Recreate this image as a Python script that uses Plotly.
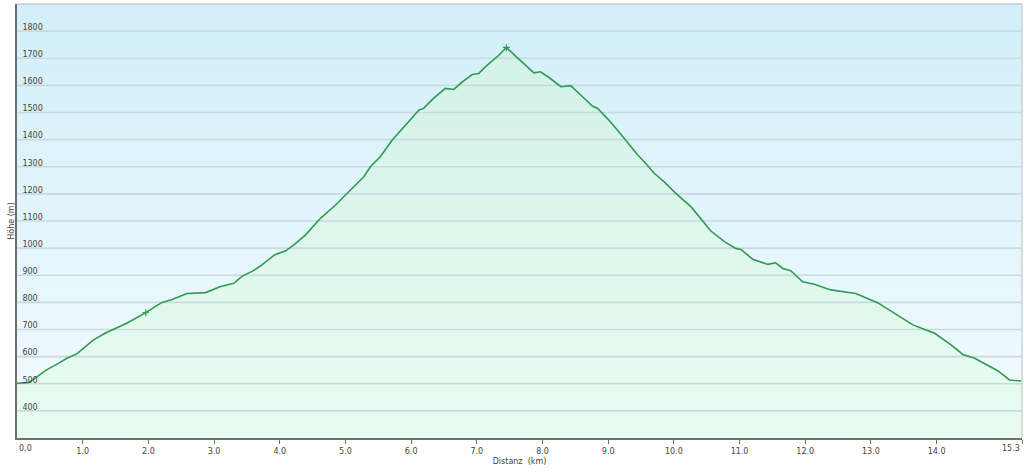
import plotly.graph_objects as go

dist_km = [0.00, 0.17, 0.27, 0.45, 0.63, 0.76, 0.91, 1.01, 1.16, 1.34, 1.49, 1.67, 1.96,
           2.20, 2.36, 2.59, 2.87, 3.09, 3.30, 3.43, 3.60, 3.73, 3.92, 4.09, 4.21, 4.39,
           4.62, 4.85, 5.05, 5.28, 5.38, 5.53, 5.71, 5.89, 6.12, 6.19, 6.34, 6.52, 6.65,
           6.78, 6.93, 7.03, 7.16, 7.34, 7.45, 7.59, 7.74, 7.87, 7.97, 8.10, 8.28, 8.43,
           8.61, 8.76, 8.84, 9.01, 9.19, 9.29, 9.45, 9.57, 9.70, 9.85, 10.03, 10.26, 10.41,
           10.56, 10.77, 10.94, 11.02, 11.20, 11.43, 11.55, 11.66, 11.78, 11.96, 12.14,
           12.39, 12.67, 12.77, 13.10, 13.41, 13.64, 13.81, 13.97, 14.22, 14.40, 14.58,
           14.73, 14.93, 15.11, 15.29]
elev_m = [502, 504, 520, 551, 575, 594, 610, 631, 661, 686, 704, 723, 762,
          799, 811, 833, 836, 858, 870, 897, 917, 938, 975, 990, 1011, 1048,
          1110, 1159, 1208, 1263, 1300, 1337, 1398, 1447, 1509, 1515, 1552, 1589, 1585,
          1613, 1640, 1644, 1675, 1712, 1740, 1708, 1675, 1646, 1650, 1629, 1595, 1599,
          1558, 1524, 1515, 1472, 1421, 1392, 1343, 1313, 1276, 1245, 1202, 1153, 1110,
          1064, 1024, 999, 995, 959, 940, 946, 925, 917, 876, 867,
          846, 837, 833, 799, 753, 717, 701, 686, 643, 608, 594,
          573, 548, 514, 510]

# waypoint markers
wp_km = [1.96, 7.45]
wp_m = [762, 1740]

x_tickvals = [0, 1, 2, 3, 4, 5, 6, 7, 8, 9, 10, 11, 12, 13, 14, 15.3]
x_ticktext = ["0.0", "1.0", "2.0", "3.0", "4.0", "5.0", "6.0", "7.0", "8.0", "9.0",
              "10.0", "11.0", "12.0", "13.0", "14.0", "15.3"]
y_tickvals = [400, 500, 600, 700, 800, 900, 1000, 1100, 1200, 1300, 1400, 1500, 1600, 1700, 1800]

X_MIN, X_MAX = 0, 15.3
Y_MIN, Y_MAX = 300, 1900

# the first and last labels sit inside the frame: they are drawn as
# edge-anchored texts, the middle ones as regular tick labels
x_labels = [""] + x_ticktext[1:-1] + [""]

LINE_COLOR = "#2f9a52"
GRID_COLOR = "#c9dadf"

fig = go.Figure()

# background gradient (light blue at top to near-white at bottom)
fig.add_trace(go.Scatter(
    x=[X_MIN, X_MAX, X_MAX, X_MIN, X_MIN], y=[Y_MIN, Y_MIN, Y_MAX, Y_MAX, Y_MIN],
    mode="none", fill="toself",
    fillgradient=dict(type="vertical", start=Y_MIN, stop=Y_MAX,
                      colorscale=[[0, "#f3fbfe"], [1, "#d2eff9"]]),
    hoverinfo="skip", showlegend=False))

# green gradient area under the profile
fig.add_trace(go.Scatter(
    x=dist_km, y=elev_m, mode="none",
    fill="tozeroy",
    fillgradient=dict(type="vertical", start=Y_MIN, stop=1750,
                      colorscale=[[0, "#e9fbf1"], [1, "#d3f2e8"]]),
    hoverinfo="skip", showlegend=False))

# horizontal grid lines (drawn over the fills, under the profile line)
gx, gy = [], []
for v in y_tickvals:
    gx += [X_MIN, X_MAX, None]
    gy += [v, v, None]
fig.add_trace(go.Scatter(
    x=gx, y=gy, mode="lines", line=dict(color=GRID_COLOR, width=1.6),
    hoverinfo="skip", showlegend=False))

# profile line
fig.add_trace(go.Scatter(
    x=dist_km, y=elev_m, mode="lines",
    line=dict(color=LINE_COLOR, width=1.6),
    showlegend=False))

fig.add_trace(go.Scatter(
    x=wp_km, y=wp_m, mode="markers",
    marker=dict(symbol="cross-thin", size=5, line=dict(color=LINE_COLOR, width=1.1)),
    showlegend=False))

font_fam = "DejaVu Sans, Verdana, sans-serif"
tick_font = dict(family=font_fam, size=8, color="#444444")

annotations = [
    dict(x=x_tickvals[0], xref="x", y=0, yref="paper", text=x_ticktext[0],
         xanchor="left", yanchor="top", yshift=-4, xshift=0, showarrow=False, font=tick_font),
    dict(x=x_tickvals[-1], xref="x", y=0, yref="paper", text=x_ticktext[-1],
         xanchor="right", yanchor="top", yshift=-4, xshift=0, showarrow=False, font=tick_font),
]

fig.update_layout(
    width=1024, height=473,
    margin=dict(l=17, r=2, t=4, b=35),
    paper_bgcolor="white", plot_bgcolor="white",
    font=dict(family=font_fam, size=8, color="#333333"),
    xaxis=dict(
        range=[X_MIN, X_MAX], tickvals=x_tickvals, ticktext=x_labels,
        showgrid=False, zeroline=False, automargin=False,
        showline=True, linecolor="#6e6e6e", linewidth=2,
        ticks="outside", ticklen=4, tickcolor="#6e6e6e", tickwidth=1,
        tickfont=tick_font,
        title=dict(text="Distanz\u00a0 (km)", font=tick_font, standoff=4),
    ),
    yaxis=dict(
        range=[Y_MIN, Y_MAX], tickvals=y_tickvals,
        showgrid=False, zeroline=False, automargin=False,
        showline=True, linecolor="#6e6e6e", linewidth=2,
        ticks="", ticklabelposition="inside", ticklabelshift=-4, ticklabelstandoff=4,
        tickfont=tick_font,
        title=dict(text="Höhe (m)", font=tick_font, standoff=7),
    ),
    annotations=annotations,
    shapes=[
        dict(type="line", xref="paper", yref="paper", x0=0, x1=1, y0=1, y1=1,
             line=dict(color="#c8c8c8", width=1.5), layer="above"),
        dict(type="line", xref="paper", yref="paper", x0=1, x1=1, y0=0, y1=1,
             line=dict(color="#d0d0d0", width=1.5), layer="above"),
    ],
)

fig.write_html("out.html",
               config={"displayModeBar": False},
               post_script="document.body.style.margin='0';document.body.style.padding='0';")
